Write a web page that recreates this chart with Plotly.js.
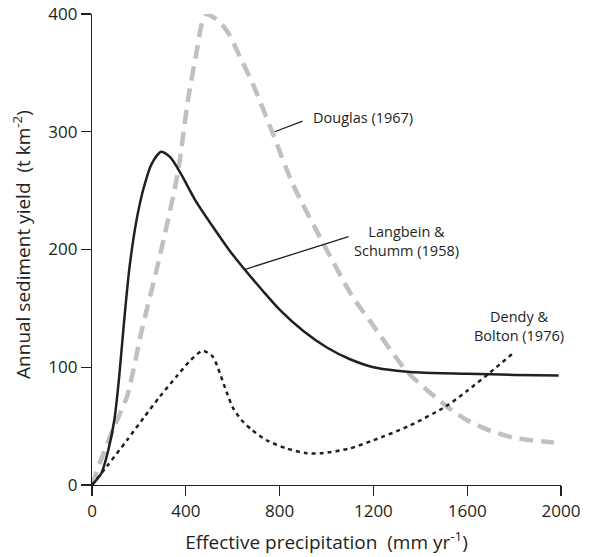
<!DOCTYPE html>
<html><head><meta charset="utf-8">
<script src="https://cdn.plot.ly/plotly-3.0.1.min.js"></script>
<style>html,body{margin:0;padding:0;background:#fff}#c{width:591px;height:557px}</style>
</head><body><div id="c"></div>
<script>
// Effective precipitation (mm/yr) vs annual sediment yield (t/km2)
const lsX = [0, 40, 70, 95, 115, 135, 160, 190, 220, 255, 295, 335, 380, 440, 520, 587, 651, 728, 800, 900, 1000, 1098, 1200, 1300, 1400, 1600, 1800, 1990];
const lsY = [0, 10, 30, 55, 90, 135, 185, 225, 252, 273, 283, 278, 264, 242, 218, 199, 183, 165, 149, 131, 117, 107, 100, 97, 95.5, 94.5, 93.5, 93];

const dgX = [0, 34, 89, 149, 213, 290, 366, 409, 447, 470, 489, 520, 550, 587, 630, 685, 770, 855, 1000, 1111, 1183, 1345, 1511, 1600, 1700, 1800, 1970];
const dgY = [0, 19, 47, 75, 132, 195, 265, 327, 369, 393, 400, 397, 392, 382, 364, 341, 299, 256, 200, 160, 140, 96, 67, 55, 46, 40, 36];

const dbX = [0, 64, 149, 220, 289, 360, 420, 472, 515, 545, 574, 600, 638, 681, 745, 830, 915, 980, 1098, 1200, 1350, 1511, 1600, 1694, 1796];
const dbY = [0, 16, 38, 57, 75, 92, 106, 114, 109, 95, 79, 66, 55, 47, 38, 31, 27, 27, 31, 38, 50, 67, 80, 95, 112];

const xTicks = [0, 400, 800, 1200, 1600, 2000];
const yTicks = [0, 100, 200, 300, 400];

const FONT = 'Open Sans, sans-serif';
const INK = '#231f20';

const traces = [
  {x: dgX, y: dgY, mode: 'lines', line: {color: '#bfc0c2', width: 4.5, dash: '14px,8px', shape: 'spline', smoothing: 0.7}, hoverinfo: 'skip'},
  {x: lsX, y: lsY, mode: 'lines', line: {color: INK, width: 2.5, shape: 'spline', smoothing: 0.7}, hoverinfo: 'skip'},
  {x: dbX, y: dbY, mode: 'lines', line: {color: INK, width: 2.5, dash: '4px,4px', shape: 'spline', smoothing: 0.7}, hoverinfo: 'skip'}
];

const layout = {
  width: 591, height: 557,
  margin: {l: 92, r: 30, t: 14, b: 72},
  paper_bgcolor: '#fff', plot_bgcolor: '#fff',
  showlegend: false,
  font: {family: FONT, size: 16, color: INK},
  xaxis: {
    range: [0, 2000], tickvals: xTicks, ticktext: xTicks.map(String),
    showgrid: false, zeroline: false, showline: true, linecolor: INK, linewidth: 1.2,
    ticks: 'outside', ticklen: 10, tickcolor: INK, tickwidth: 1.2,
    tickfont: {size: 17, family: FONT, color: INK},
    title: {text: 'Effective precipitation  (mm yr<sup>-1</sup>)', font: {size: 19, family: FONT, color: INK}, standoff: 15}
  },
  yaxis: {
    range: [0, 400], tickvals: yTicks, ticktext: yTicks.map(String),
    showgrid: false, zeroline: false, showline: true, linecolor: INK, linewidth: 1.2,
    ticks: 'outside', ticklen: 10, tickcolor: INK, tickwidth: 1.2,
    tickfont: {size: 17, family: FONT, color: INK}
  },
  shapes: [
    {type: 'line', xref: 'x', yref: 'y', x0: 779, y0: 300, x1: 898, y1: 309, line: {color: INK, width: 1.3}},
    {type: 'line', xref: 'x', yref: 'y', x0: 651, y0: 183, x1: 1094, y1: 211, line: {color: INK, width: 1.3}}
  ],
  annotations: [
    {xref: 'paper', yref: 'paper', x: -0.149, y: 0.51, xanchor: 'center', yanchor: 'middle', textangle: -90, text: 'Annual sediment yield  (t km<sup>-2</sup>)', showarrow: false, font: {size: 19, family: FONT, color: INK}},
    {xref: 'x', yref: 'y', x: 936, y: 312, xanchor: 'left', yanchor: 'middle', text: 'Douglas (1967)', showarrow: false, font: {size: 14.5, family: FONT, color: INK}},
    {xref: 'x', yref: 'y', x: 1340, y: 207, xanchor: 'center', yanchor: 'middle', text: 'Langbein &amp;<br>Schumm (1958)', showarrow: false, font: {size: 14.5, family: FONT, color: INK}},
    {xref: 'x', yref: 'y', x: 1821, y: 135, xanchor: 'center', yanchor: 'middle', text: 'Dendy &amp;<br>Bolton (1976)', showarrow: false, font: {size: 14.5, family: FONT, color: INK}}
  ]
};

Plotly.newPlot('c', traces, layout, {staticPlot: true, displayModeBar: false});
</script>
</body></html>
